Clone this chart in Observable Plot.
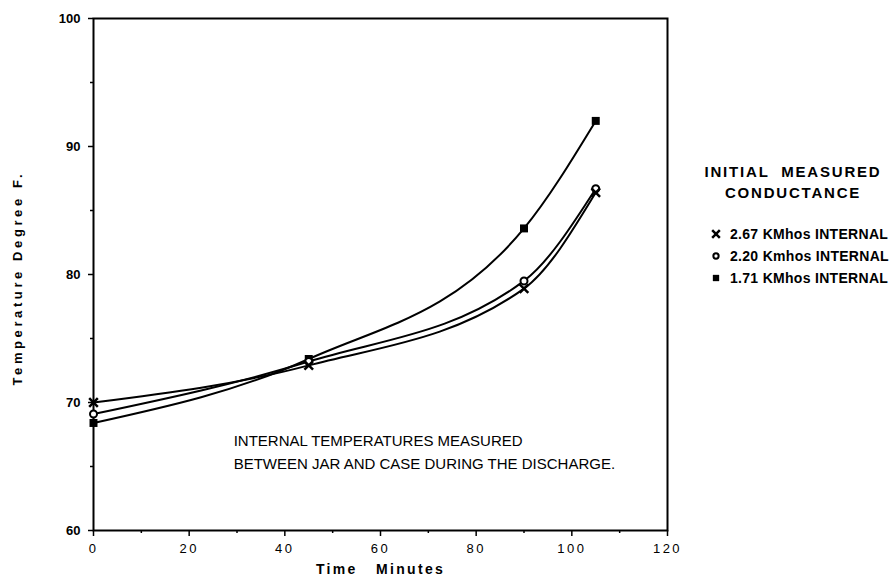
<!DOCTYPE html>
<html><head><meta charset="utf-8">
<script src="https://cdn.jsdelivr.net/npm/d3@7"></script>
<script src="https://cdn.jsdelivr.net/npm/@observablehq/plot@0.6"></script>
<style>
body{margin:0;background:#fff;font-family:"Liberation Sans",Arial,sans-serif;}
#wrap{position:relative;width:896px;height:586px;overflow:hidden;}
#legend{position:absolute;left:695px;top:161px;width:200px;color:#000;}
#legend .t{font-weight:bold;font-size:15px;letter-spacing:1.8px;text-align:center;line-height:21px;width:196px;}
#legend .e{position:relative;height:22px;font-weight:bold;font-size:14px;line-height:22px;}
#legend .e svg{position:absolute;left:13px;top:3px;}
#legend .e span{position:absolute;left:35px;white-space:nowrap;letter-spacing:0.3px;}
</style></head><body><div id="wrap"></div>
<script>
const times = [0, 45, 90, 105];
const s267 = [70.0, 72.9, 78.9, 86.4];
const s220 = [69.1, 73.2, 79.5, 86.7];
const s171 = [68.4, 73.4, 83.6, 92.0];
const seriesNames = ["2.67 KMhos INTERNAL", "2.20 Kmhos INTERNAL", "1.71 KMhos INTERNAL"];
const symbols = ["times", "circle", "square"];
const xTicks = [0, 20, 40, 60, 80, 100, 120];
const yTicks = [60, 70, 80, 90, 100];
const xMinor = [10, 30, 50, 70, 90, 110];
const yMinor = [65, 75, 85, 95];
const legendTitle = ["INITIAL  MEASURED", "CONDUCTANCE"];
const noteLines = ["INTERNAL TEMPERATURES MEASURED", "BETWEEN JAR AND CASE DURING THE DISCHARGE."];
const noteX = [29.3, 29.3];
const noteY = [67.0, 65.2];
const xTitle = "Time   Minutes";
const yTitle = "Temperature Degree F.";

const allSeries = [s267, s220, s171];
const rows = [];
allSeries.forEach((s, i) => times.forEach((t, j) => rows.push({t, v: s[j], series: seriesNames[i], sym: symbols[i]})));
const notes = noteLines.map((txt, i) => ({txt, x: noteX[i], y: noteY[i]}));

const chart = Plot.plot({
  width: 896, height: 586,
  marginLeft: 93, marginRight: 229, marginTop: 18, marginBottom: 56,
  x: {domain: [0, 120]},
  y: {domain: [60, 100]},
  symbol: {domain: symbols, range: symbols},
  style: {fontFamily: "'Liberation Sans', Arial, sans-serif", color: "#000", background: "#fff"},
  marks: [
    Plot.axisX({ticks: xTicks, tickSize: 6, tickPadding: 7, label: null, fontSize: 13, strokeWidth: 1.5}),
    Plot.axisX({ticks: xMinor, tickSize: 3, text: null, label: null, strokeWidth: 1.5}),
    Plot.axisY({ticks: yTicks, tickSize: 5, tickPadding: 8, label: null, fontSize: 13, strokeWidth: 1.5}),
    Plot.axisY({ticks: yMinor, tickSize: 3, text: null, label: null, strokeWidth: 1.5}),
    Plot.frame({stroke: "#000", strokeWidth: 2}),
    Plot.line(rows, {x: "t", y: "v", z: "series", curve: "monotone-x", stroke: "#000", strokeWidth: 2}),
    Plot.dot(rows.filter(d => d.sym === "square"), {x: "t", y: "v", symbol: "sym", r: 4.5, fill: "#000", stroke: "none"}),
    Plot.dot(rows.filter(d => d.sym === "circle"), {x: "t", y: "v", symbol: "sym", r: 3.5, fill: "#fff", stroke: "#000", strokeWidth: 2}),
    Plot.dot(rows.filter(d => d.sym === "times"), {x: "t", y: "v", symbol: "sym", r: 4, stroke: "#000", strokeWidth: 2.5}),
    Plot.text(notes, {x: "x", y: "y", text: "txt", textAnchor: "start", fontSize: 15, fill: "#000"}),
    Plot.text([xTitle], {frameAnchor: "bottom", dy: 43, fontSize: 14, fontWeight: "bold", fill: "#000"}),
    Plot.text([yTitle], {frameAnchor: "left", dx: -76, rotate: -90, fontSize: 13, fontWeight: "bold", fill: "#000", textAnchor: "start"})
  ]
});
const wrap = document.getElementById("wrap");
wrap.appendChild(chart);
chart.querySelectorAll('[aria-label="x-axis tick label"] text').forEach(t => { t.style.letterSpacing = "2.5px"; });
chart.querySelectorAll('[aria-label="y-axis tick label"] text').forEach(t => { t.style.fontWeight = "bold"; });
chart.querySelectorAll("text").forEach(t => {
  if (t.textContent === xTitle) { t.setAttribute("xml:space", "preserve"); t.style.whiteSpace = "pre"; t.style.letterSpacing = "2.3px"; }
  if (t.textContent === yTitle) { t.style.letterSpacing = "3.6px"; t.setAttribute("text-anchor", "start"); t.setAttribute("x", "-111"); }
});

// legend
const leg = document.createElement("div");
leg.id = "legend";
legendTitle.forEach(t => { const d = document.createElement("div"); d.className = "t"; d.style.whiteSpace = "pre"; d.textContent = t; leg.appendChild(d); });
const gap = document.createElement("div"); gap.style.height = "20px"; leg.appendChild(gap);
seriesNames.forEach((name, i) => {
  const e = document.createElement("div"); e.className = "e";
  const svg = d3.create("svg").attr("width", 16).attr("height", 16);
  const symMap = {times: d3.symbolTimes, circle: d3.symbolCircle, square: d3.symbolSquare};
  const size = {times: 40, circle: 22, square: 40}[symbols[i]];
  const p = svg.append("path").attr("transform", "translate(8,8)").attr("d", d3.symbol(symMap[symbols[i]], size)());
  if (symbols[i] === "square") p.attr("fill", "#000");
  else if (symbols[i] === "circle") p.attr("fill", "#fff").attr("stroke", "#000").attr("stroke-width", 2);
  else p.attr("fill", "none").attr("stroke", "#000").attr("stroke-width", 2.5);
  e.appendChild(svg.node());
  const s = document.createElement("span"); s.textContent = name; e.appendChild(s);
  leg.appendChild(e);
});
wrap.appendChild(leg);
</script></body></html>
